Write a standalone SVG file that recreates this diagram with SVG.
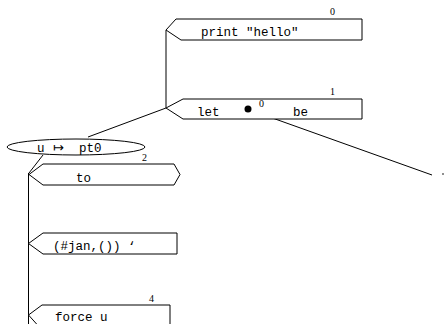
<svg xmlns="http://www.w3.org/2000/svg" width="444" height="324" viewBox="0 0 444 324">
<style>
.box{fill:#fff;stroke:#000;stroke-width:1}
.ln{fill:none;stroke:#000;stroke-width:1}
.t{font-family:"Liberation Mono","DejaVu Sans Mono",monospace;font-size:12.5px;fill:#000}
.n{font-family:"Liberation Serif","DejaVu Serif",serif;font-size:10px;fill:#000}
.sym{font-family:"DejaVu Sans",sans-serif;font-size:13px;fill:#000}
</style>
<rect width="444" height="324" fill="#fff"/>
<g id="connectors">
<line class="ln" x1="166" y1="30" x2="166" y2="108"/>
<line class="ln" x1="166" y1="108" x2="88" y2="137"/>
<line class="ln" x1="43" y1="155" x2="29" y2="173"/>
<line class="ln" x1="28.5" y1="173" x2="28.5" y2="324"/>
<line class="ln" x1="250" y1="110" x2="432" y2="175"/>
<circle cx="443" cy="174" r="0.8" fill="#000"/>
</g>
<g id="print">
<path class="box" d="M176,19 L362,19 L362,40 L181,40 L166,30 Z"/>
<text class="t" x="201" y="36">print "hello"</text>
<text class="n" x="330" y="15">0</text>
</g>
<g id="let">
<path class="box" d="M183,99 L362,99 L362,119 L183,119 L166,108 Z"/>
<text class="t" x="197" y="116">let</text>
<circle cx="248" cy="109" r="3.5" fill="#000"/>
<text class="n" x="259" y="107">0</text>
<text class="t" x="293" y="116">be</text>
<text class="n" x="330" y="95">1</text>
</g>
<g id="binding">
<ellipse class="box" cx="76" cy="147" rx="69" ry="8"/>
<text class="t" x="37" y="152">u</text>
<text class="sym" x="53" y="152">↦</text>
<text class="t" x="79" y="152">pt0</text>
</g>
<g id="to">
<path class="box" d="M43,164 L174,164 L180,174.5 L174,185 L43,185 L29,174.5 Z"/>
<text class="t" x="76" y="182">to</text>
<text class="n" x="142" y="161">2</text>
</g>
<g id="jan">
<path class="box" d="M43,233 L177,233 L177,254 L43,254 L28.5,243.5 Z"/>
<text class="t" x="53" y="250">(#jan,()) ‘</text>
</g>
<g id="force">
<path class="box" d="M42,305 L170,305 L170,330 L42,330 L28.5,315 Z"/>
<text class="t" x="55" y="321">force u</text>
<text class="n" x="149" y="302">4</text>
</g>
</svg>
